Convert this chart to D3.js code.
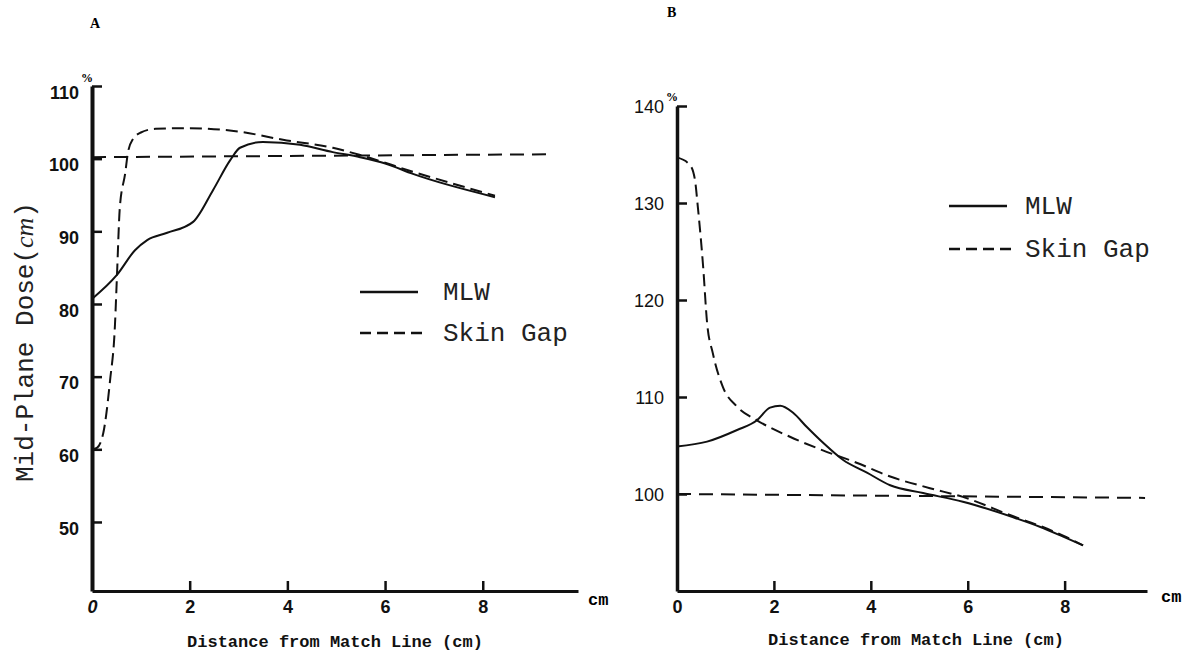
<!DOCTYPE html>
<html>
<head>
<meta charset="utf-8">
<script src="https://d3js.org/d3.v7.min.js"></script>
<style>
body { margin: 0; background: #fff; }
</style>
</head>
<body>
<div id="chart"></div>
<script>
// values: [distance from match line (cm), mid-plane dose (%)]
const xTicks = [0, 2, 4, 6, 8]
const yTicksA = [50, 60, 70, 80, 90, 100, 110]
const yTicksB = [100, 110, 120, 130, 140]
const seriesNames = ["MLW", "Skin Gap"]

const mlwA = [[0, 80.7], [0.51, 84.0], [0.88, 87.4], [1.13, 88.8], [1.54, 89.8], [2.07, 91.3],
    [2.48, 95.7], [2.83, 99.8], [3.03, 101.5], [3.5, 102.3], [4.26, 101.9], [4.93, 100.9],
    [5.49, 100.2], [6.02, 99.3], [6.57, 97.9], [8.25, 94.7]]
const skinA = [[0, 60.0], [0.1, 60.2], [0.23, 62.2], [0.37, 69.5], [0.47, 77.1], [0.51, 83.7],
    [0.57, 93.3], [0.68, 98.0], [0.74, 101.0], [0.84, 102.7], [1.0, 103.6], [1.3, 104.1],
    [2.0, 104.2], [3.03, 103.7], [3.91, 102.6], [4.93, 101.5], [5.49, 100.5], [6.57, 98.2],
    [8.25, 94.9]]
const refA = [[0, 100.2], [9.32, 100.6]]

const mlwB = [[0, 104.9], [0.62, 105.4], [1.24, 106.6], [1.65, 107.6], [1.92, 108.9], [2.13, 109.1],
    [2.39, 108.4], [2.68, 106.9], [3.01, 105.3], [3.43, 103.5], [3.92, 102.2], [4.4, 100.9],
    [5.08, 100.1], [5.9, 99.2], [6.94, 97.6], [7.5, 96.6], [7.97, 95.6], [8.38, 94.7]]
const skinB = [[0, 134.7], [0.27, 133.9], [0.37, 132.4], [0.43, 129.6], [0.54, 123.4], [0.62, 117.7],
    [0.74, 114.5], [0.95, 111.0], [1.24, 109.0], [1.65, 107.6], [2.33, 105.9], [3.01, 104.5],
    [3.72, 103.2], [4.4, 101.8], [5.22, 100.6], [5.9, 99.7], [6.94, 97.7], [7.5, 96.7],
    [7.97, 95.7], [8.38, 94.7]]
const refB = [[0, 100.0], [9.66, 99.6]]

const mono = "'Liberation Mono', 'Courier New', monospace"
const sans = "'Liberation Sans', Arial, sans-serif"
const serif = "'Liberation Serif', 'Times New Roman', serif"

function main() {
    const svg = d3.select("#chart")
        .append("svg")
        .attr("width", 1193)
        .attr("height", 654)

    const panels = [
        {label: "A", labelPos: [90, 28], pct: [81, 82], xMax: 9.95, xRange: [92, 578],
            yDomain: [40.5, 110], yRange: [591, 86], yTicks: yTicksA, bold: true, labelDy: "0.68em",
            mlw: mlwA, skin: skinA, ref: refA, unit: [588, 605], title: [335, 647],
            legend: {x1: 360, x2: 420, tx: 443, y1: 292, y2: 333}},
        {label: "B", labelPos: [667, 17], pct: [666, 101], xMax: 9.7, xRange: [677, 1147],
            yDomain: [90, 140], yRange: [591, 106], yTicks: yTicksB, bold: false, labelDy: "0.36em",
            mlw: mlwB, skin: skinB, ref: refB, unit: [1161, 602], title: [916, 645],
            legend: {x1: 949, x2: 1009, tx: 1025, y1: 206, y2: 249}}
    ]

    panels.forEach(p => drawPanel(svg, p))

    // y axis title (only on the left panel)
    const yTitle = svg.append("text")
        .attr("transform", "translate(33, 482) rotate(-90)")
        .style("font-family", mono)
        .style("font-size", "26px")
        .style("fill", "#222")
        .text("Mid-Plane Dose")
    yTitle.append("tspan").text("(")
    yTitle.append("tspan")
        .style("font-family", serif)
        .style("font-style", "italic")
        .text("cm")
    yTitle.append("tspan").text(")")
}

function drawPanel(svg, p) {
    const x = d3.scaleLinear().domain([0, p.xMax]).range(p.xRange)
    const y = d3.scaleLinear().domain(p.yDomain).range(p.yRange)
    const g = svg.append("g")

    // x axis, ticks pointing up
    const xAxis = g.append("g")
        .attr("transform", `translate(0, ${p.yRange[0]})`)
        .call(d3.axisBottom(x).tickValues(xTicks).tickSize(-10).tickSizeOuter(0).tickPadding(9))
    xAxis.select(".domain").attr("stroke-width", 3).attr("stroke", "#111")
    xAxis.selectAll(".tick line").attr("stroke-width", 2.5).attr("stroke", "#111")
    xAxis.selectAll(".tick text")
        .style("font-family", sans)
        .style("font-size", "18px")
        .style("font-weight", "bold")
        .style("fill", "#111")
    if (p.bold) {
        xAxis.selectAll(".tick text").filter(d => d === 0).style("font-style", "italic")
    }

    // y axis, ticks pointing right
    const yAxis = g.append("g")
        .attr("transform", `translate(${p.xRange[0]}, 0)`)
        .call(d3.axisLeft(y).tickValues(p.yTicks).tickSize(-10).tickSizeOuter(0).tickPadding(13))
    yAxis.select(".domain").attr("stroke-width", p.bold ? 4 : 3.5).attr("stroke", "#111")
    yAxis.selectAll(".tick line").attr("stroke-width", 2.5).attr("stroke", "#111")
    yAxis.selectAll(".tick text")
        .attr("dy", p.labelDy)
        .style("font-family", sans)
        .style("font-size", "18px")
        .style("font-weight", p.bold ? "bold" : "normal")
        .style("fill", "#111")

    const line = d3.line()
        .x(d => x(d[0]))
        .y(d => y(d[1]))
        .curve(d3.curveMonotoneX)

    // reference line at 100%
    g.append("path")
        .datum(p.ref)
        .attr("d", line)
        .attr("fill", "none")
        .attr("stroke", "#111")
        .attr("stroke-width", 2)
        .attr("stroke-dasharray", "14,8")

    g.append("path")
        .datum(p.skin)
        .attr("d", line)
        .attr("fill", "none")
        .attr("stroke", "#111")
        .attr("stroke-width", 2)
        .attr("stroke-dasharray", "12,6")

    g.append("path")
        .datum(p.mlw)
        .attr("d", line)
        .attr("fill", "none")
        .attr("stroke", "#111")
        .attr("stroke-width", 2)

    // legend
    const lg = p.legend
    g.append("line")
        .attr("x1", lg.x1).attr("x2", lg.x2 - 2)
        .attr("y1", lg.y1).attr("y2", lg.y1)
        .attr("stroke", "#111").attr("stroke-width", 2.5)
    g.append("line")
        .attr("x1", lg.x1).attr("x2", lg.x2 + 2)
        .attr("y1", lg.y2).attr("y2", lg.y2)
        .attr("stroke", "#111").attr("stroke-width", 2.5)
        .attr("stroke-dasharray", "11,6")
    g.selectAll(".legend-text")
        .data(seriesNames)
        .join("text")
        .attr("class", "legend-text")
        .attr("x", lg.tx)
        .attr("y", (d, i) => (i === 0 ? lg.y1 : lg.y2) + 8)
        .style("font-family", mono)
        .style("font-size", "26px")
        .style("fill", "#222")
        .text(d => d)

    // panel letter and percent sign
    g.append("text")
        .attr("x", p.labelPos[0]).attr("y", p.labelPos[1])
        .style("font-family", serif)
        .style("font-size", "14px")
        .style("font-weight", "bold")
        .text(p.label)
    g.append("text")
        .attr("x", p.pct[0]).attr("y", p.pct[1])
        .style("font-family", serif)
        .style("font-size", "12px")
        .style("font-weight", "bold")
        .text("%")

    // unit next to the x axis
    g.append("text")
        .attr("x", p.unit[0]).attr("y", p.unit[1])
        .style("font-family", mono)
        .style("font-size", "17px")
        .style("font-weight", "bold")
        .text("cm")

    // x axis title
    g.append("text")
        .attr("x", p.title[0]).attr("y", p.title[1])
        .attr("text-anchor", "middle")
        .style("font-family", mono)
        .style("font-size", "17px")
        .style("font-weight", "bold")
        .style("fill", "#111")
        .text("Distance from Match Line (cm)")
}

main()
</script>
</body>
</html>
